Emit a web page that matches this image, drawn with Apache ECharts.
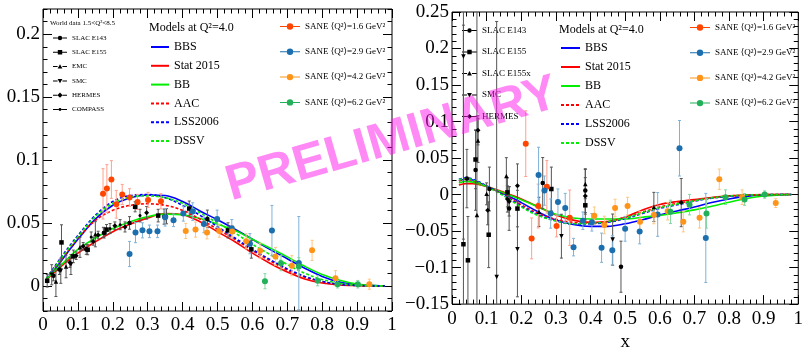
<!DOCTYPE html>
<html><head><meta charset="utf-8">
<script src="https://cdn.jsdelivr.net/npm/echarts@6/dist/echarts.min.js"></script>
<style>html,body{margin:0;padding:0;background:#fff}#c{width:806px;height:357px}</style>
</head><body><div id="c"></div>
<script>
// ---------- tick labels ----------
const xTicks = [0,0.1,0.2,0.3,0.4,0.5,0.6,0.7,0.8,0.9,1];
const yTicksLeft = [0,0.05,0.1,0.15,0.2];
const yTicksRight = [-0.15,-0.1,-0.05,0,0.05,0.1,0.15,0.2,0.25];

// ---------- legend names ----------
const modelNames = ['BBS','Stat 2015','BB','AAC','LSS2006','DSSV'];
const saneNames = ['SANE \u27E8Q\u00B2\u27E9=1.6 GeV\u00B2','SANE \u27E8Q\u00B2\u27E9=2.9 GeV\u00B2','SANE \u27E8Q\u00B2\u27E9=4.2 GeV\u00B2','SANE \u27E8Q\u00B2\u27E9=6.2 GeV\u00B2'];
const worldNamesLeft = ['SLAC E143','SLAC E155','EMC','SMC','HERMES','COMPASS'];
const worldNamesRight = ['SLAC E143','SLAC E155','SLAC E155x','SMC','HERMES'];

// ---------- model curves, left panel ----------
const mxL   = [0.01,0.03,0.05,0.08,0.1,0.15,0.2,0.25,0.3,0.35,0.4,0.45,0.5,0.55,0.6,0.65,0.7,0.75,0.8,0.85,0.9,0.95,0.98];
const bbsL  = [0.005,0.012,0.019,0.030,0.037,0.053,0.064,0.070,0.0722,0.0718,0.067,0.0595,0.0525,0.045,0.037,0.029,0.0215,0.014,0.0075,0.003,0.001,0.0002,0];
const statL = [0.005,0.010,0.015,0.022,0.026,0.035,0.043,0.049,0.054,0.0575,0.0565,0.051,0.043,0.035,0.026,0.018,0.011,0.0055,0.0022,0.0007,0.0002,0,0];
const bbL   = [0.005,0.011,0.016,0.024,0.029,0.038,0.0455,0.051,0.055,0.057,0.0565,0.0535,0.049,0.044,0.037,0.030,0.023,0.0155,0.009,0.0045,0.0015,0.0003,0];
const aacL  = [0.006,0.013,0.020,0.031,0.038,0.052,0.060,0.064,0.0652,0.064,0.060,0.053,0.045,0.037,0.028,0.020,0.0125,0.0068,0.0032,0.0011,0.0003,0,0];
const lssL  = [0.006,0.014,0.022,0.033,0.040,0.056,0.067,0.0718,0.0725,0.070,0.064,0.056,0.047,0.038,0.029,0.021,0.0135,0.0075,0.0035,0.0012,0.0003,0,0];
const dssvL = [0.006,0.013,0.021,0.032,0.039,0.055,0.0655,0.0705,0.0715,0.070,0.0655,0.058,0.050,0.042,0.033,0.025,0.017,0.010,0.005,0.002,0.0005,0,0];

// ---------- model curves, right panel ----------
const mxR   = [0.02,0.04,0.06,0.1,0.15,0.2,0.25,0.3,0.35,0.4,0.45,0.5,0.55,0.6,0.65,0.7,0.75,0.8,0.85,0.9,0.95,0.98];
const bbsR  = [0.019,0.021,0.020,0.011,0.001,-0.011,-0.024,-0.035,-0.041,-0.0435,-0.0435,-0.040,-0.0345,-0.028,-0.0225,-0.017,-0.011,-0.006,-0.0025,-0.0007,-0.0001,0];
const statR = [0.013,0.015,0.015,0.011,0.003,-0.006,-0.017,-0.028,-0.035,-0.038,-0.037,-0.031,-0.021,-0.0135,-0.0095,-0.0068,-0.004,-0.0018,-0.0006,-0.0001,0,0];
const bbR   = [0.016,0.018,0.017,0.011,0.002,-0.007,-0.017,-0.027,-0.032,-0.0335,-0.0335,-0.0335,-0.031,-0.0285,-0.025,-0.021,-0.016,-0.0105,-0.0055,-0.002,-0.0005,0];
const aacR  = [0.019,0.021,0.019,0.011,0.000,-0.014,-0.026,-0.034,-0.038,-0.039,-0.037,-0.031,-0.024,-0.017,-0.012,-0.008,-0.0045,-0.002,-0.0008,-0.0002,0,0];
const lssR  = [0.021,0.023,0.021,0.012,-0.001,-0.016,-0.028,-0.036,-0.0405,-0.040,-0.038,-0.033,-0.026,-0.019,-0.014,-0.009,-0.005,-0.0025,-0.001,-0.0002,0,0];
const dssvR = [0.020,0.022,0.020,0.011,-0.002,-0.017,-0.029,-0.036,-0.040,-0.0395,-0.037,-0.032,-0.025,-0.018,-0.013,-0.0085,-0.0045,-0.002,-0.0008,-0.0002,0,0];

// ---------- SANE points [x, value, error], left ----------
const sane16L = [[0.172,0.0731,0.020],[0.183,0.0773,0.019],[0.196,0.0845,0.015],[0.210,0.0648,0.011],[0.227,0.0726,0.008],[0.248,0.0702,0.007],[0.271,0.0667,0.006],[0.301,0.0683,0.006],[0.338,0.0672,0.006]];
const sane29L = [[0.248,0.0253,0.010],[0.265,0.0423,0.008],[0.285,0.0441,0.006],[0.305,0.0433,0.005],[0.328,0.0433,0.005],[0.350,0.0545,0.007],[0.374,0.0521,0.005],[0.402,0.0574,0.006],[0.429,0.059,0.007],[0.461,0.0492,0.007],[0.499,0.0532,0.007],[0.541,0.0457,0.007],[0.593,0.0335,0.008],[0.656,0.0439,0.020],[0.733,0.0181,0.037]];
const sane42L = [[0.409,0.0436,0.006],[0.437,0.0447,0.006],[0.470,0.0423,0.005],[0.505,0.0436,0.005],[0.542,0.0431,0.005],[0.582,0.0354,0.006],[0.622,0.0279,0.006],[0.666,0.0234,0.007],[0.713,0.016,0.008],[0.771,0.0282,0.008],[0.838,0.0061,0.006],[0.935,0.0013,0.004]];
const sane62L = [[0.636,0.0037,0.006],[0.682,0.018,0.006],[0.733,0.0154,0.007],[0.787,0.004,0.004],[0.844,0.0013,0.003],[0.902,0.0013,0.003]];

// ---------- SANE points, right ----------
const sane16R = [[0.213,0.0697,0.045],[0.230,-0.060,0.028],[0.249,-0.0157,0.030],[0.274,0.0107,0.036],[0.302,-0.0429,0.015],[0.340,-0.0318,0.038]];
const sane29R = [[0.250,0.0268,0.038],[0.267,0.0054,0.020],[0.285,-0.026,0.020],[0.306,-0.0103,0.018],[0.327,-0.0184,0.020],[0.351,-0.072,0.012],[0.378,-0.0358,0.012],[0.404,-0.038,0.012],[0.432,-0.0728,0.020],[0.463,-0.0764,0.020],[0.500,-0.0469,0.017],[0.542,-0.0505,0.017],[0.594,-0.0272,0.030],[0.657,0.0634,0.038],[0.733,-0.0594,0.061]];
const sane42R = [[0.411,-0.029,0.012],[0.440,-0.0416,0.012],[0.471,-0.0184,0.012],[0.507,-0.0157,0.012],[0.543,-0.0371,0.014],[0.583,-0.028,0.012],[0.623,-0.0228,0.012],[0.668,-0.0371,0.014],[0.715,-0.0318,0.014],[0.772,0.021,0.014],[0.838,-0.0036,0.010],[0.935,-0.0117,0.006]];
const sane62R = [[0.631,-0.0237,0.016],[0.686,-0.0138,0.014],[0.735,-0.026,0.020],[0.790,-0.0036,0.010],[0.845,-0.0067,0.008],[0.903,0.0,0.005]];

// ---------- world data, left ----------
const e143L = [[0.030,0.008,0.004],[0.047,0.013,0.004],[0.124,0.029,0.004],[0.175,0.042,0.004],[0.248,0.050,0.005],[0.347,0.055,0.006],[0.471,0.0532,0.007]];
const e155L = [[0.012,0.004,0.005],[0.053,0.0345,0.014],[0.087,0.0234,0.005],[0.128,0.0287,0.004],[0.182,0.0447,0.004],[0.264,0.0628,0.004],[0.330,0.0558,0.005],[0.419,0.0614,0.006],[0.530,0.0441,0.006],[0.597,0.029,0.007]];
const emcL = [[0.037,0.0035,0.012],[0.066,0.0154,0.009],[0.106,0.0306,0.008],[0.150,0.041,0.010]];
const smcL = [[0.025,0.0088,0.008],[0.051,0.012,0.010],[0.080,0.017,0.008]];
const hermesL = [[0.077,0.0186,0.004],[0.095,0.024,0.003],[0.115,0.0314,0.003],[0.144,0.0353,0.003],[0.158,0.0404,0.003],[0.206,0.0478,0.003],[0.235,0.0468,0.004],[0.297,0.058,0.005]];
const compassL = [[0.138,0.0388,0.004],[0.173,0.0425,0.004],[0.192,0.0455,0.004],[0.221,0.0486,0.004],[0.278,0.0558,0.005],[0.354,0.0553,0.006]];

// ---------- world data, right ----------
const e143R = [[0.043,0.0219,0.04],[0.068,0.0335,0.055],[0.108,0.0076,0.03],[0.165,-0.019,0.03],[0.262,0.0157,0.035],[0.385,0.0054,0.03],[0.488,-0.0988,0.035]];
const e155R = [[0.033,-0.068,0.3],[0.046,-0.090,0.06],[0.068,0.048,0.04],[0.106,-0.055,0.045],[0.160,0.003,0.02],[0.189,-0.0192,0.025],[0.287,0.0076,0.03],[0.385,-0.0147,0.02]];
const e155xR = [[0.072,-0.028,0.35],[0.075,0.074,0.03],[0.100,0.001,0.015],[0.157,0.0255,0.025],[0.251,-0.0237,0.02],[0.385,0.0143,0.02],[0.583,-0.017,0.02]];
const smcR = [[0.033,0.189,0.25],[0.129,-0.113,0.35],[0.189,-0.075,0.065],[0.316,-0.057,0.03],[0.464,-0.0617,0.035]];
const hermesR = [[0.075,0.088,0.02],[0.103,-0.0214,0.02],[0.160,-0.006,0.018],[0.165,-0.0094,0.02],[0.189,0.012,0.03],[0.385,-0.0018,0.025],[0.662,-0.011,0.033]];

// ---------- styling ----------
const FONT = "'Liberation Serif','DejaVu Serif',serif";
const saneColors = ['#ff4500','#1b6fae','#ff9418','#22b05a'];
const saneErrColors = ['#ffa08c','#7fb2d8','#ffc682','#86d6a6'];
const modelColors = ['#0000ff','#ff0000','#00ee00','#ff0000','#0000ff','#00ee00'];
const modelDashed = [false,false,false,true,true,true];

function fmt(v){
  const r = Math.round(v*100)/100;
  if (r === 0) return '0';
  return (r < 0 ? '\u2212' : '') + String(Math.abs(r));
}

function errRender(params, api){
  const x = api.value(0), y = api.value(1), e = api.value(2);
  const p1 = api.coord([x, y + e]), p2 = api.coord([x, y - e]);
  const cs = params.coordSys;
  const top = Math.max(cs.y, p1[1]), bot = Math.min(cs.y + cs.height, p2[1]);
  if (top >= bot) return null;
  const c = api.visual('color');
  const st = {stroke: c, lineWidth: 1};
  const ch = [{type:'line', shape:{x1:p1[0], y1:top, x2:p1[0], y2:bot}, style: st}];
  if (p1[1] >= cs.y) ch.push({type:'line', shape:{x1:p1[0]-1.5, y1:p1[1], x2:p1[0]+1.5, y2:p1[1]}, style: st});
  if (p2[1] <= cs.y + cs.height) ch.push({type:'line', shape:{x1:p2[0]-1.5, y1:p2[1], x2:p2[0]+1.5, y2:p2[1]}, style: st});
  return {type:'group', children: ch};
}

function icon(shape, W, H, r){
  const m = H/2, cx = W/2;
  let s = `M0,0h0.05v0.05h-0.05Z M${W-0.05},${H-0.05}h0.05v0.05h-0.05Z `;
  s += `M0,${m-0.5}H${cx-r}V${m+0.5}H0Z M${cx+r},${m-0.5}H${W}V${m+0.5}H${cx+r}Z `;
  if (shape === 'circle') s += `M${cx-r},${m}A${r},${r} 0 1,1 ${cx+r},${m}A${r},${r} 0 1,1 ${cx-r},${m}Z`;
  else if (shape === 'rect') s += `M${cx-r},${m-r}H${cx+r}V${m+r}H${cx-r}Z`;
  else if (shape === 'up') s += `M${cx},${m-r}L${cx+r},${m+r*0.8}L${cx-r},${m+r*0.8}Z`;
  else if (shape === 'down') s += `M${cx},${m+r}L${cx-r},${m-r*0.8}L${cx+r},${m-r*0.8}Z`;
  else if (shape === 'diamond') s += `M${cx},${m-r}L${cx+r},${m}L${cx},${m+r}L${cx-r},${m}Z`;
  return 'path://' + s;
}

const series = [];
function curve(name, xs, ys, i, g){
  series.push({type:'line', name, xAxisIndex: g?2:0, yAxisIndex: g?4:0,
    data: xs.map((x,k)=>[x, ys[k]]), smooth: 0.35, symbol:'none', showSymbol:false,
    lineStyle:{color: modelColors[i], width: 1.6, type: modelDashed[i] ? [3,2] : 'solid'},
    itemStyle:{color: modelColors[i]}, z: 3, silent: true, clip: true});
}
function points(name, data, color, errColor, symbol, size, g, rot){
  series.push({type:'custom', name:'_err', xAxisIndex: g?2:0, yAxisIndex: g?4:0,
    data, encode:{x:0, y:1}, renderItem: errRender, itemStyle:{color: errColor}, z: 4, silent: true, clip: true});
  series.push({type:'scatter', name, xAxisIndex: g?2:0, yAxisIndex: g?4:0,
    data, symbol, symbolSize: size, symbolRotate: rot || 0, itemStyle:{color, opacity: 1}, z: 5, silent: true, clip: true});
}

const modelsL = [bbsL, statL, bbL, aacL, lssL, dssvL];
const modelsR = [bbsR, statR, bbR, aacR, lssR, dssvR];
modelNames.forEach((n,i)=>curve(n, mxL, modelsL[i], i, 0));
modelNames.forEach((n,i)=>curve(n, mxR, modelsR[i], i, 1));

const BLK = '#000', EB = '#555';
points('SLAC E143', e143L, BLK, EB, 'circle', 4.5, 0);
points('SLAC E155', e155L, BLK, EB, 'rect', 4.5, 0);
points('EMC', emcL, BLK, EB, 'triangle', 4.5, 0);
points('SMC', smcL, BLK, EB, 'triangle', 4.5, 0, 180);
points('HERMES', hermesL, BLK, EB, 'diamond', 5, 0);
points('COMPASS', compassL, BLK, EB, 'circle', 3, 0);
points('SLAC E143', e143R, BLK, EB, 'circle', 4.5, 1);
points('SLAC E155', e155R, BLK, EB, 'rect', 4.5, 1);
points('SLAC E155x', e155xR, BLK, EB, 'triangle', 4.5, 1);
points('SMC', smcR, BLK, EB, 'triangle', 4.5, 1, 180);
points('HERMES', hermesR, BLK, EB, 'diamond', 5, 1);

const saneL = [sane16L, sane29L, sane42L, sane62L];
const saneR = [sane16R, sane29R, sane42R, sane62R];
saneNames.forEach((n,i)=>points(n, saneL[i], saneColors[i], saneErrColors[i], 'circle', 6, 0));
saneNames.forEach((n,i)=>points(n, saneR[i], saneColors[i], saneErrColors[i], 'circle', 6, 1));

// ---------- axes ----------
const labelStyle = {fontFamily: FONT, fontSize: 19, color: '#000'};
const noLine = {show:false, onZero:false};
function xAx(g, pos){
  return {type:'value', gridIndex:g, position:pos, min:0, max:1, interval:0.1,
    axisLine: noLine, splitLine:{show:false},
    axisTick:{inside:true, length:9, lineStyle:{color:'#000'}},
    minorTick:{show:true, splitNumber:5, length:4.5, lineStyle:{color:'#000'}},
    axisLabel: pos === 'bottom' ? Object.assign({margin:5, formatter: fmt, customValues: xTicks}, labelStyle) : {show:false}};
}
const xAxes = [xAx(0,'bottom'), xAx(0,'top'), xAx(1,'bottom'), xAx(1,'top')];
xAxes[2].name = 'x'; xAxes[2].nameLocation = 'middle'; xAxes[2].nameGap = 26;
xAxes[2].nameTextStyle = {fontFamily: FONT, fontSize: 19, color: '#000'};

function yMinor(g, pos){
  return {type:'value', gridIndex:g, position:pos, min:-0.02, max:0.22, interval:0.01,
    axisLine: noLine, splitLine:{show:false},
    axisTick:{inside:true, length:4.5, lineStyle:{color:'#000'}},
    axisLabel: pos === 'left' ? Object.assign({margin:3, formatter: fmt, customValues: yTicksLeft}, labelStyle) : {show:false}};
}
function yMajor(g, pos){
  return {type:'value', gridIndex:g, position:pos, min:-0.02, max:0.22,
    axisLine: noLine, splitLine:{show:false},
    axisTick:{inside:true, length:9, customValues: yTicksLeft, lineStyle:{color:'#000'}},
    axisLabel:{show:false}};
}
function yR(pos){
  return {type:'value', gridIndex:1, position:pos, min:-0.15, max:0.25, interval:0.05,
    axisLine: noLine, splitLine:{show:false},
    axisTick:{inside:true, length:9, lineStyle:{color:'#000'}},
    minorTick:{show:true, splitNumber:5, length:4.5, lineStyle:{color:'#000'}},
    axisLabel: pos === 'left' ? Object.assign({margin:3, formatter: fmt, customValues: yTicksRight}, labelStyle) : {show:false}};
}
const yAxes = [yMinor(0,'left'), yMajor(0,'left'), yMinor(0,'right'), yMajor(0,'right'), yR('left'), yR('right')];

// ---------- legends ----------
function legend(names, icons, left, top, w, h, gap, fs, hideSymbol){
  const l = {left, top, orient:'vertical', padding:0, itemWidth:w, itemHeight:h, itemGap:gap,
    selectedMode:false, inactiveColor:'#000',
    data: names.map((n,i)=> icons ? {name:n, icon: icons[i]} : {name:n}),
    textStyle:{fontFamily:FONT, fontSize:fs, color:'#000', lineHeight:h}};
  if (hideSymbol) l.itemStyle = {opacity: 0};
  return l;
}
const wShapesL = ['circle','rect','up','down','diamond','circle'];
const wSizeL = [2.2,2.2,2.4,2.4,2.6,1.4];
const wShapesR = ['circle','rect','up','down','diamond'];
const legends = [
  legend(worldNamesLeft, wShapesL.map((s,i)=>icon(s,14,6,wSizeL[i])), 53, 34.5, 14, 6, 7.3, 7),
  legend(modelNames, null, 150, 41, 18, 12, 6.8, 12, true),
  legend(saneNames, saneNames.map(()=>icon('circle',20,8,3.2)), 280, 22, 20, 8, 16.3, 9),
  legend(worldNamesRight, wShapesR.map((s,i)=>icon(s,15,6,wSizeL[i])), 462, 26, 15, 6, 12.5, 9),
  legend(modelNames, null, 560, 42, 19, 12, 7, 12, true),
  legend(saneNames, saneNames.map(()=>icon('circle',20,8,3.2)), 690, 23, 20, 8, 16.2, 9)
];

const titles = [
  {text:'World data 1.5<Q\u00B2<8.5', left:50, top:19, padding:0, textStyle:{fontFamily:FONT, fontSize:7, fontWeight:'normal', color:'#000', lineHeight:8}},
  {text:'Models at Q\u00B2=4.0', left:149, top:22, padding:0, textStyle:{fontFamily:FONT, fontSize:12, fontWeight:'normal', color:'#000', lineHeight:12}},
  {text:'Models at Q\u00B2=4.0', left:559, top:24, padding:0, textStyle:{fontFamily:FONT, fontSize:12, fontWeight:'normal', color:'#000', lineHeight:12}}
];

const chart = echarts.init(document.getElementById('c'), null, {renderer:'canvas'});
chart.setOption({
  animation: false,
  backgroundColor: '#fff',
  title: titles,
  legend: legends,
  grid: [
    {left:43, top:9, width:349, height:302, show:true, borderColor:'#000', borderWidth:1, backgroundColor:'transparent'},
    {left:452, top:12, width:350, height:299, show:true, borderColor:'#000', borderWidth:1, backgroundColor:'transparent'}
  ],
  xAxis: xAxes,
  yAxis: yAxes,
  series: series,
  graphic: [{
    type:'text', x:392, y:140, rotation: 16*Math.PI/180, z:100, silent:true,
    style:{text:'PRELIMINARY', fill:'rgba(255,20,235,0.5)', font:"bold 50px 'Liberation Sans', Arial, sans-serif", align:'center', verticalAlign:'middle'}
  }]
});
</script></body></html>
